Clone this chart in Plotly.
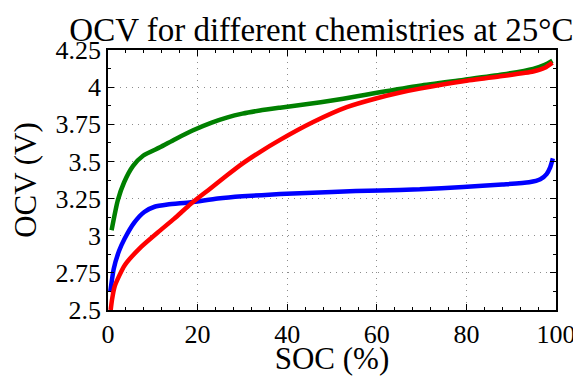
import plotly.graph_objects as go

# Data
blue_soc = [0.5, 1.3, 2.5, 3.7, 5.9, 8.1, 10.4, 13.3, 18.5, 24.5, 30, 38.4, 50, 60.7, 69.6, 79.3, 88, 94, 96.5, 97.9, 98.7, 99.3]
blue_v = [2.62, 2.78, 2.90, 2.98, 3.09, 3.16, 3.195, 3.21, 3.225, 3.25, 3.265, 3.28, 3.295, 3.305, 3.312, 3.328, 3.345, 3.36, 3.38, 3.415, 3.46, 3.52]

green_soc = [0.8, 2.2, 3.6, 5.6, 7.9, 11.6, 15, 19, 23, 26.5, 30, 33.9, 38.4, 45, 50, 55, 60, 69.6, 79.3, 88, 94.9, 97.5, 99.2]
green_v = [3.037, 3.24, 3.36, 3.47, 3.54, 3.595, 3.65, 3.71, 3.76, 3.795, 3.822, 3.843, 3.862, 3.888, 3.91, 3.935, 3.962, 4.01, 4.049, 4.085, 4.123, 4.15, 4.178]

red_soc = [0.6, 0.9, 1.5, 3.7, 7.4, 11.1, 14.8, 18.5, 22.3, 26.5, 30, 33.9, 38.4, 45.8, 53.3, 60, 65, 69.6, 79.3, 88, 94.9, 97.5, 99.2]
red_v = [2.5, 2.57, 2.66, 2.80, 2.925, 3.022, 3.115, 3.215, 3.305, 3.405, 3.485, 3.563, 3.645, 3.765, 3.865, 3.925, 3.962, 3.99, 4.04, 4.075, 4.105, 4.13, 4.165]

x_ticks = [0, 20, 40, 60, 80, 100]
y_ticks = [2.5, 2.75, 3, 3.25, 3.5, 3.75, 4, 4.25]
y_labels = ["2.5", "2.75", "3", "3.25", "3.5", "3.75", "4", "4.25"]

FONT = "Liberation Serif"

fig = go.Figure()
for xs, ys, col in [(blue_soc, blue_v, "#0000ff"), (green_soc, green_v, "#008000"), (red_soc, red_v, "#ff0000")]:
    fig.add_trace(go.Scatter(x=xs, y=ys, mode="lines",
                             line=dict(color=col, width=4.5, shape="spline", smoothing=0.6),
                             showlegend=False))

axis_common = dict(showline=True, linecolor="black", linewidth=1.5, mirror="ticks",
                   ticks="inside", ticklen=6, tickcolor="black", tickwidth=1,
                   showgrid=True, gridcolor="#8c8c8c", griddash="1px,5px", gridwidth=1,
                   zeroline=False, automargin=False,
                   tickfont=dict(family=FONT, size=26, color="black"))

fig.update_xaxes(range=[0, 100], tickvals=x_ticks, ticktext=[str(v) for v in x_ticks],
                 title=dict(text="SOC (%)", font=dict(family=FONT, size=31, color="black"), standoff=1),
                 minor=dict(ticks="inside", ticklen=3, dtick=4, tickcolor="black", showgrid=False),
                 **axis_common)
fig.update_yaxes(range=[2.5, 4.25], tickvals=y_ticks, ticktext=y_labels,
                 title=dict(text="OCV (V)", font=dict(family=FONT, size=31, color="black"), standoff=16),
                 minor=dict(ticks="inside", ticklen=3, dtick=0.125, tickcolor="black", showgrid=False),
                 **axis_common)

# The page body has an 8px default margin, so the figure is sized to fit the 581x376 window
fig.update_layout(
    width=573, height=368,
    margin=dict(l=100, r=25, t=41.5, b=66),
    paper_bgcolor="white", plot_bgcolor="white",
    title=dict(text="OCV for different chemistries at 25°C", x=0.547, xanchor="center",
               y=0.973, yanchor="top",
               font=dict(family=FONT, size=33, color="black")),
)

fig.write_html("out.html")
